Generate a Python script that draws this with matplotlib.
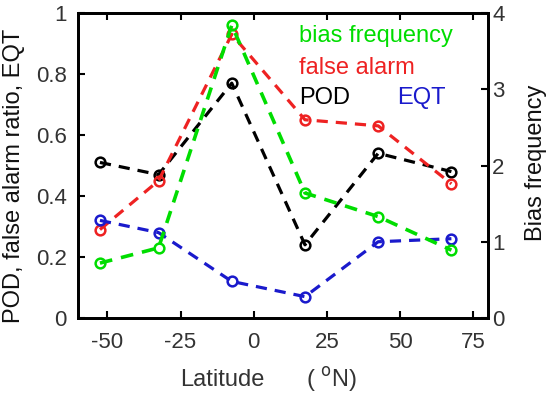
import matplotlib
matplotlib.use("Agg")
import matplotlib.pyplot as plt

plt.rcParams['font.family'] = ['Liberation Sans', 'DejaVu Sans']

lat = [-52.5, -32.5, -7.5, 17.5, 42.5, 67.5]
pod = [0.51, 0.47, 0.77, 0.24, 0.54, 0.48]
false_alarm = [0.29, 0.45, 0.93, 0.65, 0.63, 0.44]
eqt = [0.32, 0.28, 0.12, 0.07, 0.25, 0.26]
bias = [0.72, 0.92, 3.84, 1.64, 1.33, 0.89]

xticks = [-50, -25, 0, 25, 50, 75]
yticks_left = [0, 0.2, 0.4, 0.6, 0.8, 1.0]
ylabels_left = ['0', '0.2', '0.4', '0.6', '0.8', '1']
yticks_right = [0, 1, 2, 3, 4]

green = '#00dd00'
red = '#ee2222'
blue = '#1a1acc'
black = '#000000'
txtc = '#333333'

W, H = 550, 397
fig = plt.figure(figsize=(5.5, 3.97), dpi=100)
ax = fig.add_axes([78/W, 1-318/H, (488-78)/W, (318-13)/H])
ax2 = ax.twinx()

kw = dict(ls='--', lw=2.3, marker='o', ms=7, mfc='none', mew=1.8, dashes=(3.5, 2.5))
ax.plot(lat, pod, color=black, **kw)
ax.plot(lat, false_alarm, color=red, **kw)
ax.plot(lat, eqt, color=blue, **kw)
ax2.plot(lat, bias, color=green, **{**kw, 'lw': 2.6})

ax.set_xlim(-60, 80)
ax.set_ylim(0, 1)
ax2.set_ylim(0, 4)
ax.set_xticks(xticks)
ax.set_xticklabels([str(t) for t in xticks])
ax.set_yticks(yticks_left)
ax.set_yticklabels(ylabels_left)
ax2.set_yticks(yticks_right)

for a in (ax, ax2):
    for s in a.spines.values():
        s.set_linewidth(2)
ax.tick_params(axis='x', direction='in', top=True, length=5, width=1.5, labelsize=16, labelcolor=txtc, pad=10)
ax.tick_params(axis='y', direction='in', length=5, width=1.5, labelsize=16, labelcolor=txtc, pad=8)
ax2.tick_params(axis='y', direction='in', length=5, width=1.5, labelsize=16, labelcolor=txtc, pad=3)

fig.text(180/W, 1-380/H, 'Latitude', color=txtc, fontsize=17, ha='left', va='center')
fig.text(306/W, 1-380/H, '( $^{\\mathrm{o}}$N)', color=txtc, fontsize=17, ha='left', va='center')
fig.text(14/W, 1-176/H, 'POD, false alarm ratio, EQT', color='#111111', fontsize=17,
         rotation=90, ha='center', va='center')
fig.text(536/W, 1-163/H, 'Bias frequency', color='#111111', fontsize=17,
         rotation=90, ha='center', va='center')

fig.text(299/W, 1-36/H, 'bias frequency', color=green, fontsize=17, va='center', ha='left')
fig.text(299/W, 1-68/H, 'false alarm', color=red, fontsize=17, va='center', ha='left')
fig.text(299/W, 1-98/H, 'POD', color=black, fontsize=17, va='center', ha='left')
fig.text(397/W, 1-98/H, 'EQT', color=blue, fontsize=17, va='center', ha='left')

fig.savefig('out.png', dpi=100)
